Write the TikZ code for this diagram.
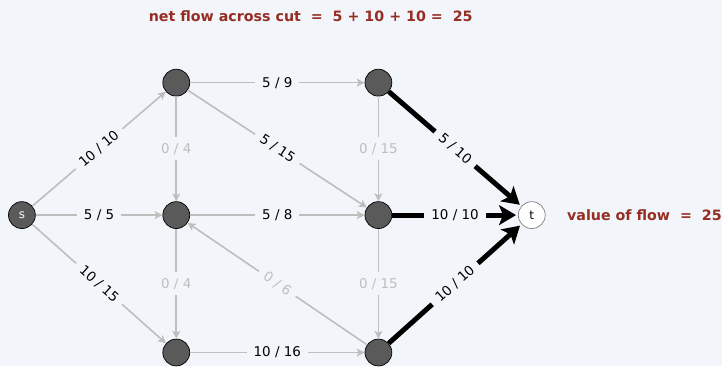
\documentclass[tikz,border=0pt]{standalone}
\usepackage{fontspec}
\setmainfont{DejaVu Sans}
\usetikzlibrary{arrows.meta}
\definecolor{bg}{RGB}{242,245,249}
\definecolor{cutred}{RGB}{150,45,35}
\definecolor{edgegray}{RGB}{190,190,190}
\definecolor{nodegray}{RGB}{90,90,90}
\begin{document}
\begin{tikzpicture}[x=1pt,y=1pt,
  vertex/.style={circle,draw=black,fill=nodegray,minimum size=27pt,inner sep=0pt,line width=0.7pt,font=\fontsize{12}{14}\selectfont},
  sink/.style={vertex,draw=gray,fill=white},
  flow/.style={draw=edgegray,line width=1.6pt,-{Stealth[length=8pt,width=8pt,inset=2pt]}},
  full/.style={draw=black,line width=5pt,shorten >=2pt,-{Stealth[length=17pt,width=20pt,inset=4pt]}},
  lab/.style={fill=bg,inner xsep=7pt,inner ysep=6pt,font=\fontsize{13.5}{16}\selectfont},
  along/.style={lab,sloped,inner ysep=3pt},
  zero/.style={lab,text=edgegray},
  note/.style={text=cutred,font=\bfseries\fontsize{14.3}{17}\selectfont}]
\fill[bg] (0,0) rectangle (725,368);
\node[vertex,text=white] (s) at (22,152) {s};
\node[vertex] (a) at (177,285) {};
\node[vertex] (b) at (177,152) {};
\node[vertex] (c) at (177,14) {};
\node[vertex] (d) at (380,285) {};
\node[vertex] (e) at (380,152) {};
\node[vertex] (f) at (380,14) {};
\node[sink] (t) at (534,152) {t};
\draw[flow] (s) to node[along] {10 / 10} (a);
\draw[flow] (s) to node[lab] {5 / 5} (b);
\draw[flow] (s) to node[along] {10 / 15} (c);
\draw[flow] (a) to node[lab] {5 / 9} (d);
\draw[flow] (a) to node[zero] {0 / 4} (b);
\draw[flow] (a) to node[along] {5 / 15} (e);
\draw[flow] (b) to node[lab] {5 / 8} (e);
\draw[flow] (b) to node[zero] {0 / 4} (c);
\draw[flow] (f) to node[zero,sloped,inner ysep=3pt] {0 / 6} (b);
\draw[flow] (c) to node[lab] {10 / 16} (f);
\draw[flow] (d) to node[zero] {0 / 15} (e);
\draw[flow] (e) to node[zero] {0 / 15} (f);
\draw[full] (d) to node[along] {5 / 10} (t);
\draw[full] (e) to node[lab] {10 / 10} (t);
\draw[full] (f) to node[along] {10 / 10} (t);
\node[note] (total) at (312,352) {net flow across cut~~=~~5 + 10 + 10 =~~25};
\node[note,anchor=west] (value) at (566,152) {value of flow~~=~~25};
\end{tikzpicture}
\end{document}
